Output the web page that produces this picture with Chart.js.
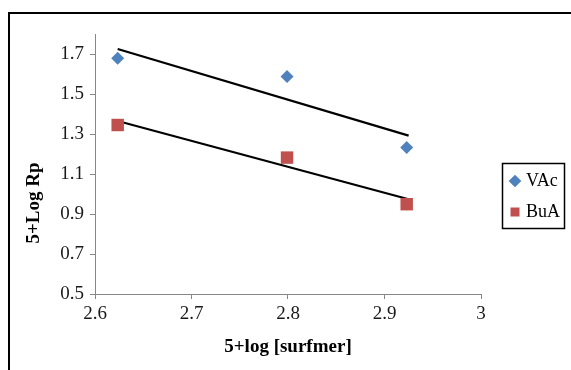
<!DOCTYPE html>
<html>
<head>
<meta charset="utf-8">
<script src="https://cdn.jsdelivr.net/npm/chart.js@4"></script>
<style>
  html, body { margin: 0; padding: 0; width: 571px; height: 370px; overflow: hidden; background: #fff; }
  #frame { position: absolute; left: 8px; top: 12px; width: 700px; height: 500px; border-left: 2px solid #000; border-top: 2px solid #000; }
  #wrap { position: absolute; left: 0; top: 0; width: 571px; height: 370px; }
</style>
</head>
<body>
<div id="frame"></div>
<div id="wrap"><canvas id="c" width="571" height="370"></canvas></div>
<script>
// ---- data ----
const xValues = [2.6235, 2.799, 2.923];
const vacValues = [1.679, 1.587, 1.232];
const buaValues = [1.345, 1.182, 0.949];
const trendX = [2.6235, 2.925];
const vacTrend = [1.725, 1.292];
const buaTrend = [1.365, 0.974];
const xTicks = [2.6, 2.7, 2.8, 2.9, 3];
const xTickLabels = ['2.6', '2.7', '2.8', '2.9', '3'];
const yTicks = [0.5, 0.7, 0.9, 1.1, 1.3, 1.5, 1.7];
const yTickLabels = ['0.5', '0.7', '0.9', '1.1', '1.3', '1.5', '1.7'];
const seriesNames = ['VAc', 'BuA'];
const xTitle = '5+log [surfmer]';
const yTitle = '5+Log Rp';

const FONT = '"Liberation Serif", "Times New Roman", serif';
const AXIS_COLOR = '#868686';
const BLUE = '#4F81BD';
const RED = '#C0504D';

const toPts = (xs, ys) => xs.map((x, i) => ({ x: x, y: ys[i] }));

const extras = {
  id: 'extras',
  afterLayout(chart) {
    const lg = chart.legend;
    if (!lg) return;
    lg.left = 500; lg.right = 566; lg.width = 66;
    lg.top = 150; lg.bottom = 243; lg.height = 93;
  },
  afterDraw(chart) {
    const ctx = chart.ctx;
    ctx.save();
    // legend border
    ctx.strokeStyle = '#000';
    ctx.lineWidth = 1.5;
    ctx.strokeRect(502.5, 163.5, 62, 65);
    // y axis title
    ctx.fillStyle = '#000';
    ctx.font = 'bold 19px ' + FONT;
    ctx.textAlign = 'center';
    ctx.textBaseline = 'middle';
    ctx.translate(34, 203);
    ctx.rotate(-Math.PI / 2);
    ctx.fillText(yTitle, 0, 0);
    ctx.restore();
  }
};

new Chart(document.getElementById('c'), {
  type: 'scatter',
  data: {
    datasets: [
      { label: seriesNames[0], data: toPts(xValues, vacValues), pointStyle: 'rectRot', pointRadius: 6.5,
        backgroundColor: BLUE, borderColor: BLUE, borderWidth: 0, pointHoverRadius: 6.5 },
      { label: seriesNames[1], data: toPts(xValues, buaValues), pointStyle: 'rect', pointRadius: 8.8,
        backgroundColor: RED, borderColor: RED, borderWidth: 0, pointHoverRadius: 8.8 },
      { label: 'trend VAc', data: toPts(trendX, vacTrend), showLine: true, pointRadius: 0,
        borderColor: '#000', borderWidth: 2.2, backgroundColor: '#000' },
      { label: 'trend BuA', data: toPts(trendX, buaTrend), showLine: true, pointRadius: 0,
        borderColor: '#000', borderWidth: 2.2, backgroundColor: '#000' }
    ]
  },
  options: {
    responsive: false,
    animation: false,
    events: [],
    layout: { padding: { left: 0, top: 34, right: 90, bottom: 0 } },
    plugins: {
      tooltip: { enabled: false },
      legend: {
        position: 'chartArea',
        align: 'center',
        labels: {
          usePointStyle: true,
          boxWidth: 4,
          boxHeight: 9,
          padding: 13,
          color: '#000',
          font: { family: FONT, size: 18 },
          filter: (item) => item.datasetIndex < 2
        }
      }
    },
    scales: {
      x: {
        type: 'linear',
        min: xTicks[0],
        max: xTicks[xTicks.length - 1],
        afterBuildTicks: (s) => { s.ticks = xTicks.map(v => ({ value: v })); },
        afterFit: (s) => { s.height = 76; },
        ticks: { color: '#1a1a1a', font: { family: FONT, size: 19 }, padding: 4, maxRotation: 0,
                 callback: (v, i) => xTickLabels[i] },
        grid: { drawOnChartArea: false, drawTicks: true, tickLength: 5, color: AXIS_COLOR },
        border: { color: AXIS_COLOR, width: 1 },
        title: { display: true, text: xTitle, color: '#000', font: { family: FONT, size: 19, weight: 'bold' }, padding: { top: 0, bottom: 12 } }
      },
      y: {
        type: 'linear',
        min: 0.5,
        max: 1.8,
        afterBuildTicks: (s) => { s.ticks = yTicks.map(v => ({ value: v })); },
        afterFit: (s) => { s.width = 95; },
        ticks: { color: '#1a1a1a', font: { family: FONT, size: 19 }, padding: 6,
                 callback: (v, i) => yTickLabels[i] },
        grid: { drawOnChartArea: false, drawTicks: true, tickLength: 5, color: AXIS_COLOR },
        border: { color: AXIS_COLOR, width: 1 }
      }
    }
  },
  plugins: [extras]
});
</script>
</body>
</html>
